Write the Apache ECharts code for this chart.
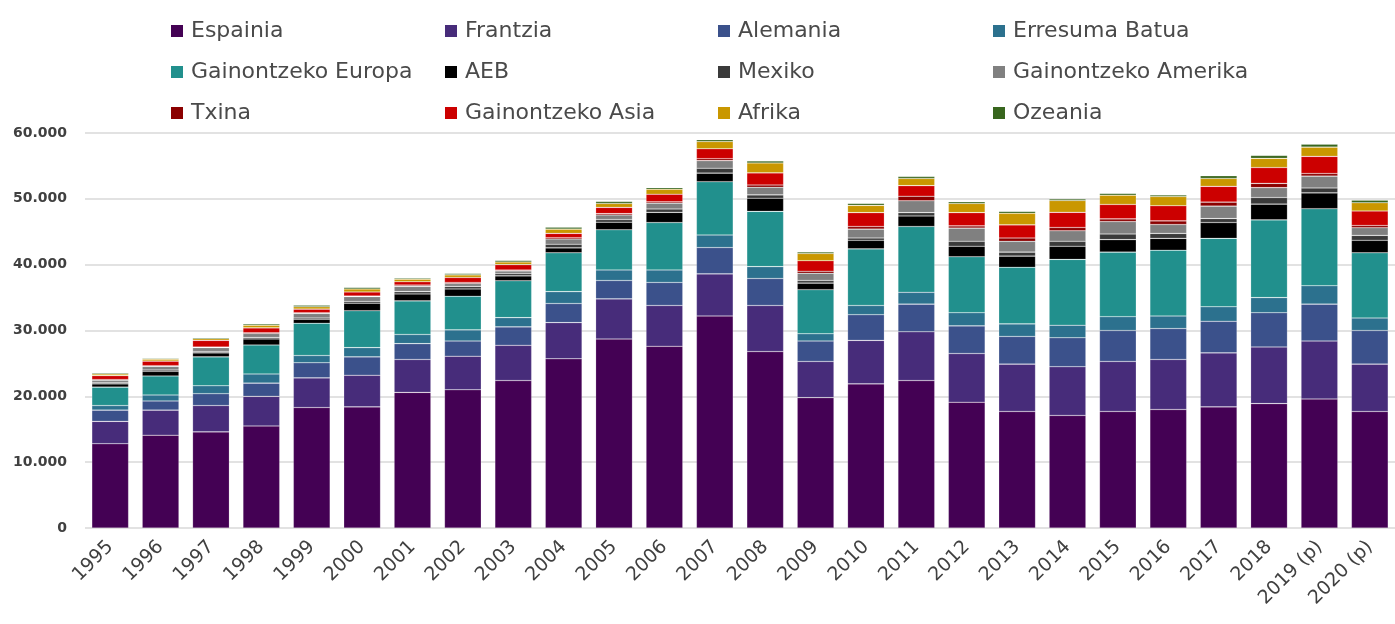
<!DOCTYPE html>
<html>
<head>
<meta charset="utf-8">
<title>Bisitariak jatorriaren arabera</title>
<script src="https://cdn.jsdelivr.net/npm/echarts@6/dist/echarts.min.js"></script>
<style>
  html, body { margin: 0; padding: 0; background: #fff; }
  #main { width: 1395px; height: 624px; }
</style>
</head>
<body>
<div id="main"></div>
<script>
  // urteak (x ardatza)
  const years = ['1995', '1996', '1997', '1998', '1999', '2000', '2001', '2002', '2003', '2004',
    '2005', '2006', '2007', '2008', '2009', '2010', '2011', '2012', '2013', '2014',
    '2015', '2016', '2017', '2018', '2019 (p)', '2020 (p)']

  // y ardatzeko marrak
  const yTicks = [0, 10000, 20000, 30000, 40000, 50000, 60000]

  // jatorri bakoitzeko balioak (iruditik irakurriak)
  const espainia = [12800, 14100, 14600, 15500, 18300, 18400, 20600, 21000, 22400, 25700, 28700, 27600, 32200, 26800, 19800, 21900, 22400, 19100, 17700, 17100, 17700, 18000, 18400, 18900, 19600, 17700]
  const frantzia = [3400, 3800, 4000, 4500, 4500, 4800, 5000, 5100, 5350, 5500, 6100, 6200, 6400, 7000, 5500, 6600, 7400, 7400, 7200, 7400, 7600, 7600, 8200, 8600, 8800, 7200]
  const alemania = [1700, 1400, 1800, 2000, 2300, 2800, 2400, 2300, 2800, 2900, 2800, 3500, 4000, 4100, 3100, 3900, 4200, 4200, 4200, 4400, 4700, 4700, 4800, 5200, 5600, 5100]
  const erresumaBatua = [700, 900, 1200, 1400, 1100, 1400, 1400, 1700, 1400, 1800, 1600, 1900, 1900, 1800, 1100, 1400, 1800, 2000, 1900, 1900, 2100, 1900, 2200, 2300, 2800, 1900]
  const gainEuropa = [2800, 2900, 4400, 4400, 4900, 5600, 5100, 5100, 5600, 5900, 6100, 7200, 8100, 8400, 6700, 8600, 10000, 8500, 8600, 10000, 9800, 10000, 10400, 11800, 11700, 9900]
  const aeb = [500, 700, 600, 900, 600, 1150, 1050, 1100, 750, 750, 1150, 1550, 1300, 2000, 1000, 1300, 1600, 1600, 1700, 2000, 1900, 1800, 2400, 2400, 2400, 1900]
  const mexiko = [200, 200, 200, 250, 200, 250, 350, 400, 350, 550, 400, 500, 750, 500, 400, 350, 500, 750, 600, 750, 850, 750, 600, 1000, 750, 750]
  const gainAmerika = [350, 550, 600, 600, 700, 750, 800, 450, 400, 800, 700, 900, 1150, 1150, 1100, 1350, 1800, 2000, 1650, 1600, 1900, 1350, 1900, 1500, 1800, 1150]
  const txina = [100, 100, 100, 100, 100, 100, 200, 150, 150, 200, 200, 200, 300, 350, 300, 400, 700, 350, 500, 500, 400, 550, 600, 650, 400, 350]
  const gainAsia = [600, 700, 1000, 750, 550, 600, 500, 750, 800, 650, 950, 1150, 1500, 1850, 1600, 2100, 1600, 2000, 2000, 2300, 2200, 2300, 2400, 2400, 2600, 2200]
  const afrika = [250, 300, 250, 400, 350, 450, 400, 400, 400, 650, 600, 750, 1100, 1500, 1100, 1100, 1100, 1400, 1750, 1800, 1400, 1400, 1200, 1400, 1400, 1250]
  const ozeania = [150, 150, 150, 200, 250, 250, 200, 200, 250, 300, 300, 250, 300, 300, 250, 300, 300, 250, 300, 250, 250, 250, 400, 450, 450, 400]

  // izenak, koloreak eta datuak batera
  const origins = [
    { name: 'Espainia', color: '#440154', data: espainia },
    { name: 'Frantzia', color: '#472c7a', data: frantzia },
    { name: 'Alemania', color: '#3b518b', data: alemania },
    { name: 'Erresuma Batua', color: '#2c718e', data: erresumaBatua },
    { name: 'Gainontzeko Europa', color: '#21908d', data: gainEuropa },
    { name: 'AEB', color: '#000000', data: aeb },
    { name: 'Mexiko', color: '#3a3a3a', data: mexiko },
    { name: 'Gainontzeko Amerika', color: '#808080', data: gainAmerika },
    { name: 'Txina', color: '#8b0000', data: txina },
    { name: 'Gainontzeko Asia', color: '#cc0000', data: gainAsia },
    { name: 'Afrika', color: '#c99700', data: afrika },
    { name: 'Ozeania', color: '#38661e', data: ozeania }
  ]

  const font = 'DejaVu Sans'
  const textColor = '#404040'

  // legenda: 4 zutabe, 3 errenkada
  const legendLefts = [166, 440, 713, 988]
  const legends = legendLefts.map((left, col) => ({
    orient: 'vertical',
    left: left,
    top: 15,
    itemWidth: 12,
    itemHeight: 12,
    itemGap: 19,
    icon: 'rect',
    selectedMode: false,
    itemStyle: { borderWidth: 0 },
    textStyle: { fontFamily: font, fontSize: 22, lineHeight: 22, color: '#4a4a4a', padding: [0, 0, 0, 3] },
    data: [0, 1, 2].map(row => origins[row * 4 + col].name)
  }))

  const fmt = v => String(v).replace(/\B(?=(\d{3})+(?!\d))/g, '.')

  const myChart = echarts.init(document.getElementById('main'))

  const option = {
    animation: false,
    backgroundColor: '#ffffff',
    legend: legends,
    grid: { left: 85, right: -5, top: 133, bottom: 96, containLabel: false },
    xAxis: {
      type: 'category',
      data: years,
      axisLine: { show: false },
      axisTick: { show: false },
      axisLabel: {
        interval: 0,
        rotate: 45,
        margin: 16,
        fontFamily: font,
        fontSize: 19,
        color: textColor
      }
    },
    yAxis: {
      type: 'value',
      min: yTicks[0],
      max: yTicks[yTicks.length - 1],
      interval: yTicks[1] - yTicks[0],
      axisLine: { show: false },
      axisTick: { show: false },
      axisLabel: {
        margin: 18,
        fontFamily: font,
        fontSize: 14,
        fontWeight: 'bold',
        color: textColor,
        formatter: fmt
      },
      splitLine: { lineStyle: { color: '#d9d9d9', width: 1.5 } }
    },
    series: origins.map(o => ({
      name: o.name,
      type: 'bar',
      stack: 'guztira',
      barCategoryGap: '27%',
      data: o.data,
      itemStyle: {
        color: o.color,
        borderColor: 'rgba(255,255,255,0.3)',
        borderWidth: 0.6
      }
    }))
  }

  myChart.setOption(option)
</script>
</body>
</html>
